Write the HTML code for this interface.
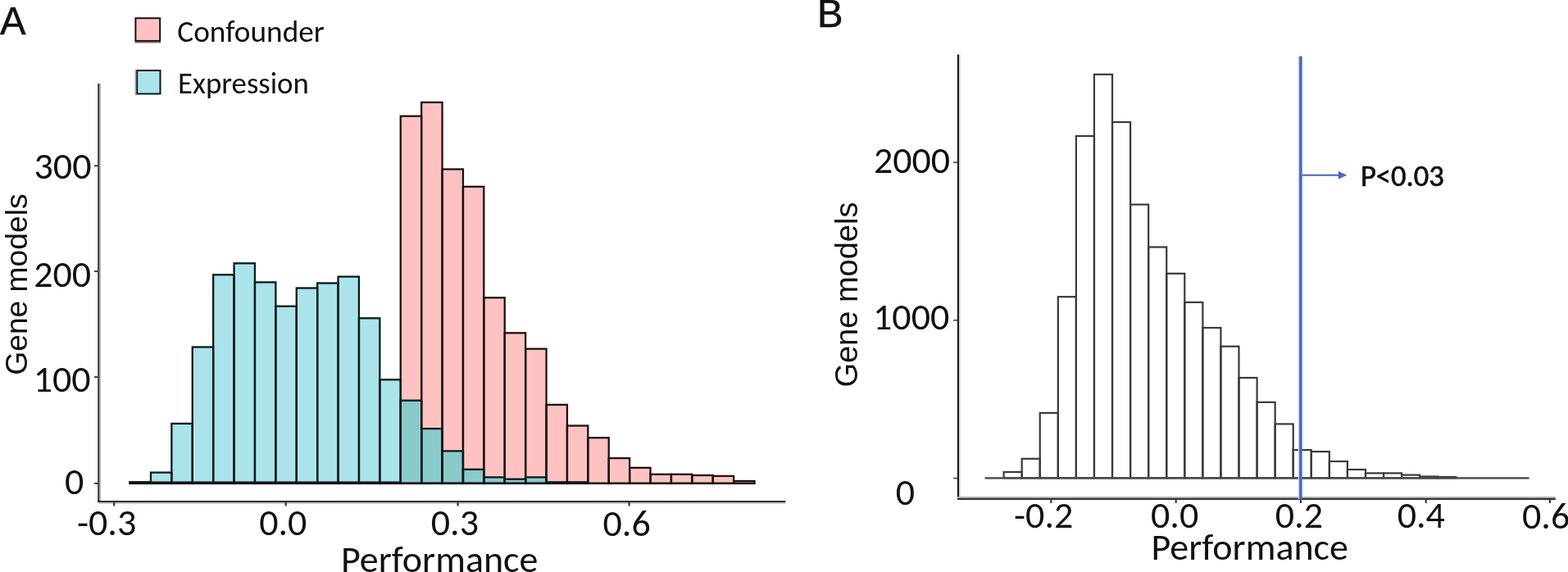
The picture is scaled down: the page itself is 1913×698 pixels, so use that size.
<!DOCTYPE html>
<html><head><meta charset="utf-8"><title>Figure</title>
<style>html,body{margin:0;padding:0;background:#fff;overflow:hidden}svg{display:block}</style>
</head><body>
<svg width="1913" height="698" viewBox="0 0 1913 698">
<rect width="1913" height="698" fill="#ffffff"/>
<rect x="158.56" y="588.60" width="25.40" height="1.30" fill="#FFC2C2"/>
<rect x="183.96" y="588.60" width="25.40" height="1.30" fill="#FFC2C2"/>
<rect x="209.36" y="588.60" width="25.40" height="1.30" fill="#FFC2C2"/>
<rect x="234.76" y="588.60" width="25.40" height="1.30" fill="#FFC2C2"/>
<rect x="260.16" y="588.60" width="25.40" height="1.30" fill="#FFC2C2"/>
<rect x="285.56" y="588.60" width="25.40" height="1.30" fill="#FFC2C2"/>
<rect x="310.95" y="588.60" width="25.40" height="1.30" fill="#FFC2C2"/>
<rect x="336.35" y="588.60" width="25.40" height="1.30" fill="#FFC2C2"/>
<rect x="361.75" y="588.60" width="25.40" height="1.30" fill="#FFC2C2"/>
<rect x="387.15" y="588.60" width="25.40" height="1.30" fill="#FFC2C2"/>
<rect x="412.55" y="588.60" width="25.40" height="1.30" fill="#FFC2C2"/>
<rect x="437.95" y="588.60" width="25.40" height="1.30" fill="#FFC2C2"/>
<rect x="463.35" y="588.60" width="25.40" height="1.30" fill="#FFC2C2"/>
<rect x="488.75" y="141.70" width="25.40" height="448.20" fill="#FFC2C2"/>
<rect x="514.15" y="124.90" width="25.40" height="465.00" fill="#FFC2C2"/>
<rect x="539.55" y="206.50" width="25.40" height="383.40" fill="#FFC2C2"/>
<rect x="564.94" y="227.80" width="25.40" height="362.10" fill="#FFC2C2"/>
<rect x="590.34" y="363.30" width="25.40" height="226.60" fill="#FFC2C2"/>
<rect x="615.74" y="406.30" width="25.40" height="183.60" fill="#FFC2C2"/>
<rect x="641.14" y="425.70" width="25.40" height="164.20" fill="#FFC2C2"/>
<rect x="666.54" y="493.90" width="25.40" height="96.00" fill="#FFC2C2"/>
<rect x="691.94" y="519.50" width="25.40" height="70.40" fill="#FFC2C2"/>
<rect x="717.34" y="534.20" width="25.40" height="55.70" fill="#FFC2C2"/>
<rect x="742.74" y="559.10" width="25.40" height="30.80" fill="#FFC2C2"/>
<rect x="768.14" y="570.80" width="25.40" height="19.10" fill="#FFC2C2"/>
<rect x="793.54" y="578.80" width="25.40" height="11.10" fill="#FFC2C2"/>
<rect x="818.93" y="578.80" width="25.40" height="11.10" fill="#FFC2C2"/>
<rect x="844.33" y="580.00" width="25.40" height="9.90" fill="#FFC2C2"/>
<rect x="869.73" y="580.90" width="25.40" height="9.00" fill="#FFC2C2"/>
<rect x="895.13" y="587.00" width="25.40" height="2.90" fill="#FFC2C2"/>
<rect x="158.56" y="588.30" width="25.40" height="1.60" fill="#AAE3EA"/>
<rect x="158.56" y="588.60" width="25.40" height="1.30" fill="#8BCACB"/>
<rect x="183.96" y="576.60" width="25.40" height="13.30" fill="#AAE3EA"/>
<rect x="183.96" y="588.60" width="25.40" height="1.30" fill="#8BCACB"/>
<rect x="209.36" y="516.90" width="25.40" height="73.00" fill="#AAE3EA"/>
<rect x="209.36" y="588.60" width="25.40" height="1.30" fill="#8BCACB"/>
<rect x="234.76" y="423.50" width="25.40" height="166.40" fill="#AAE3EA"/>
<rect x="234.76" y="588.60" width="25.40" height="1.30" fill="#8BCACB"/>
<rect x="260.16" y="335.30" width="25.40" height="254.60" fill="#AAE3EA"/>
<rect x="260.16" y="588.60" width="25.40" height="1.30" fill="#8BCACB"/>
<rect x="285.56" y="321.30" width="25.40" height="268.60" fill="#AAE3EA"/>
<rect x="285.56" y="588.60" width="25.40" height="1.30" fill="#8BCACB"/>
<rect x="310.95" y="344.40" width="25.40" height="245.50" fill="#AAE3EA"/>
<rect x="310.95" y="588.60" width="25.40" height="1.30" fill="#8BCACB"/>
<rect x="336.35" y="373.70" width="25.40" height="216.20" fill="#AAE3EA"/>
<rect x="336.35" y="588.60" width="25.40" height="1.30" fill="#8BCACB"/>
<rect x="361.75" y="351.50" width="25.40" height="238.40" fill="#AAE3EA"/>
<rect x="361.75" y="588.60" width="25.40" height="1.30" fill="#8BCACB"/>
<rect x="387.15" y="345.50" width="25.40" height="244.40" fill="#AAE3EA"/>
<rect x="387.15" y="588.60" width="25.40" height="1.30" fill="#8BCACB"/>
<rect x="412.55" y="337.60" width="25.40" height="252.30" fill="#AAE3EA"/>
<rect x="412.55" y="588.60" width="25.40" height="1.30" fill="#8BCACB"/>
<rect x="437.95" y="388.30" width="25.40" height="201.60" fill="#AAE3EA"/>
<rect x="437.95" y="588.60" width="25.40" height="1.30" fill="#8BCACB"/>
<rect x="463.35" y="463.30" width="25.40" height="126.60" fill="#AAE3EA"/>
<rect x="463.35" y="588.60" width="25.40" height="1.30" fill="#8BCACB"/>
<rect x="488.75" y="488.70" width="25.40" height="101.20" fill="#AAE3EA"/>
<rect x="488.75" y="488.70" width="25.40" height="101.20" fill="#8BCACB"/>
<rect x="514.15" y="523.10" width="25.40" height="66.80" fill="#AAE3EA"/>
<rect x="514.15" y="523.10" width="25.40" height="66.80" fill="#8BCACB"/>
<rect x="539.55" y="550.40" width="25.40" height="39.50" fill="#AAE3EA"/>
<rect x="539.55" y="550.40" width="25.40" height="39.50" fill="#8BCACB"/>
<rect x="564.94" y="572.80" width="25.40" height="17.10" fill="#AAE3EA"/>
<rect x="564.94" y="572.80" width="25.40" height="17.10" fill="#8BCACB"/>
<rect x="590.34" y="582.40" width="25.40" height="7.50" fill="#AAE3EA"/>
<rect x="590.34" y="582.40" width="25.40" height="7.50" fill="#8BCACB"/>
<rect x="615.74" y="584.70" width="25.40" height="5.20" fill="#AAE3EA"/>
<rect x="615.74" y="584.70" width="25.40" height="5.20" fill="#8BCACB"/>
<rect x="641.14" y="582.40" width="25.40" height="7.50" fill="#AAE3EA"/>
<rect x="641.14" y="582.40" width="25.40" height="7.50" fill="#8BCACB"/>
<rect x="666.54" y="588.30" width="25.40" height="1.60" fill="#AAE3EA"/>
<rect x="666.54" y="588.30" width="25.40" height="1.60" fill="#8BCACB"/>
<rect x="691.94" y="588.30" width="25.40" height="1.60" fill="#AAE3EA"/>
<rect x="691.94" y="588.30" width="25.40" height="1.60" fill="#8BCACB"/>
<rect x="158.56" y="588.60" width="25.40" height="1.30" fill="none" stroke="#1c1212" stroke-width="2.3"/>
<rect x="183.96" y="588.60" width="25.40" height="1.30" fill="none" stroke="#1c1212" stroke-width="2.3"/>
<rect x="209.36" y="588.60" width="25.40" height="1.30" fill="none" stroke="#1c1212" stroke-width="2.3"/>
<rect x="234.76" y="588.60" width="25.40" height="1.30" fill="none" stroke="#1c1212" stroke-width="2.3"/>
<rect x="260.16" y="588.60" width="25.40" height="1.30" fill="none" stroke="#1c1212" stroke-width="2.3"/>
<rect x="285.56" y="588.60" width="25.40" height="1.30" fill="none" stroke="#1c1212" stroke-width="2.3"/>
<rect x="310.95" y="588.60" width="25.40" height="1.30" fill="none" stroke="#1c1212" stroke-width="2.3"/>
<rect x="336.35" y="588.60" width="25.40" height="1.30" fill="none" stroke="#1c1212" stroke-width="2.3"/>
<rect x="361.75" y="588.60" width="25.40" height="1.30" fill="none" stroke="#1c1212" stroke-width="2.3"/>
<rect x="387.15" y="588.60" width="25.40" height="1.30" fill="none" stroke="#1c1212" stroke-width="2.3"/>
<rect x="412.55" y="588.60" width="25.40" height="1.30" fill="none" stroke="#1c1212" stroke-width="2.3"/>
<rect x="437.95" y="588.60" width="25.40" height="1.30" fill="none" stroke="#1c1212" stroke-width="2.3"/>
<rect x="463.35" y="588.60" width="25.40" height="1.30" fill="none" stroke="#1c1212" stroke-width="2.3"/>
<rect x="488.75" y="141.70" width="25.40" height="448.20" fill="none" stroke="#1c1212" stroke-width="2.3"/>
<rect x="514.15" y="124.90" width="25.40" height="465.00" fill="none" stroke="#1c1212" stroke-width="2.3"/>
<rect x="539.55" y="206.50" width="25.40" height="383.40" fill="none" stroke="#1c1212" stroke-width="2.3"/>
<rect x="564.94" y="227.80" width="25.40" height="362.10" fill="none" stroke="#1c1212" stroke-width="2.3"/>
<rect x="590.34" y="363.30" width="25.40" height="226.60" fill="none" stroke="#1c1212" stroke-width="2.3"/>
<rect x="615.74" y="406.30" width="25.40" height="183.60" fill="none" stroke="#1c1212" stroke-width="2.3"/>
<rect x="641.14" y="425.70" width="25.40" height="164.20" fill="none" stroke="#1c1212" stroke-width="2.3"/>
<rect x="666.54" y="493.90" width="25.40" height="96.00" fill="none" stroke="#1c1212" stroke-width="2.3"/>
<rect x="691.94" y="519.50" width="25.40" height="70.40" fill="none" stroke="#1c1212" stroke-width="2.3"/>
<rect x="717.34" y="534.20" width="25.40" height="55.70" fill="none" stroke="#1c1212" stroke-width="2.3"/>
<rect x="742.74" y="559.10" width="25.40" height="30.80" fill="none" stroke="#1c1212" stroke-width="2.3"/>
<rect x="768.14" y="570.80" width="25.40" height="19.10" fill="none" stroke="#1c1212" stroke-width="2.3"/>
<rect x="793.54" y="578.80" width="25.40" height="11.10" fill="none" stroke="#1c1212" stroke-width="2.3"/>
<rect x="818.93" y="578.80" width="25.40" height="11.10" fill="none" stroke="#1c1212" stroke-width="2.3"/>
<rect x="844.33" y="580.00" width="25.40" height="9.90" fill="none" stroke="#1c1212" stroke-width="2.3"/>
<rect x="869.73" y="580.90" width="25.40" height="9.00" fill="none" stroke="#1c1212" stroke-width="2.3"/>
<rect x="895.13" y="587.00" width="25.40" height="2.90" fill="none" stroke="#1c1212" stroke-width="2.3"/>
<rect x="158.56" y="588.30" width="25.40" height="1.60" fill="none" stroke="#0c1a1a" stroke-width="2.3"/>
<rect x="183.96" y="576.60" width="25.40" height="13.30" fill="none" stroke="#0c1a1a" stroke-width="2.3"/>
<rect x="209.36" y="516.90" width="25.40" height="73.00" fill="none" stroke="#0c1a1a" stroke-width="2.3"/>
<rect x="234.76" y="423.50" width="25.40" height="166.40" fill="none" stroke="#0c1a1a" stroke-width="2.3"/>
<rect x="260.16" y="335.30" width="25.40" height="254.60" fill="none" stroke="#0c1a1a" stroke-width="2.3"/>
<rect x="285.56" y="321.30" width="25.40" height="268.60" fill="none" stroke="#0c1a1a" stroke-width="2.3"/>
<rect x="310.95" y="344.40" width="25.40" height="245.50" fill="none" stroke="#0c1a1a" stroke-width="2.3"/>
<rect x="336.35" y="373.70" width="25.40" height="216.20" fill="none" stroke="#0c1a1a" stroke-width="2.3"/>
<rect x="361.75" y="351.50" width="25.40" height="238.40" fill="none" stroke="#0c1a1a" stroke-width="2.3"/>
<rect x="387.15" y="345.50" width="25.40" height="244.40" fill="none" stroke="#0c1a1a" stroke-width="2.3"/>
<rect x="412.55" y="337.60" width="25.40" height="252.30" fill="none" stroke="#0c1a1a" stroke-width="2.3"/>
<rect x="437.95" y="388.30" width="25.40" height="201.60" fill="none" stroke="#0c1a1a" stroke-width="2.3"/>
<rect x="463.35" y="463.30" width="25.40" height="126.60" fill="none" stroke="#0c1a1a" stroke-width="2.3"/>
<rect x="488.75" y="488.70" width="25.40" height="101.20" fill="none" stroke="#0c1a1a" stroke-width="2.3"/>
<rect x="514.15" y="523.10" width="25.40" height="66.80" fill="none" stroke="#0c1a1a" stroke-width="2.3"/>
<rect x="539.55" y="550.40" width="25.40" height="39.50" fill="none" stroke="#0c1a1a" stroke-width="2.3"/>
<rect x="564.94" y="572.80" width="25.40" height="17.10" fill="none" stroke="#0c1a1a" stroke-width="2.3"/>
<rect x="590.34" y="582.40" width="25.40" height="7.50" fill="none" stroke="#0c1a1a" stroke-width="2.3"/>
<rect x="615.74" y="584.70" width="25.40" height="5.20" fill="none" stroke="#0c1a1a" stroke-width="2.3"/>
<rect x="641.14" y="582.40" width="25.40" height="7.50" fill="none" stroke="#0c1a1a" stroke-width="2.3"/>
<rect x="666.54" y="588.30" width="25.40" height="1.60" fill="none" stroke="#0c1a1a" stroke-width="2.3"/>
<rect x="691.94" y="588.30" width="25.40" height="1.60" fill="none" stroke="#0c1a1a" stroke-width="2.3"/>
<rect x="157.56" y="588.7" width="762.97" height="2.1" fill="#141010"/>
<rect x="1224.63" y="576.00" width="22.07" height="7.30" fill="none" stroke="#3a3a3a" stroke-width="2.2"/>
<rect x="1246.69" y="559.80" width="22.07" height="23.50" fill="none" stroke="#3a3a3a" stroke-width="2.2"/>
<rect x="1268.76" y="503.90" width="22.07" height="79.40" fill="none" stroke="#3a3a3a" stroke-width="2.2"/>
<rect x="1290.83" y="362.20" width="22.07" height="221.10" fill="none" stroke="#3a3a3a" stroke-width="2.2"/>
<rect x="1312.89" y="166.00" width="22.07" height="417.30" fill="none" stroke="#3a3a3a" stroke-width="2.2"/>
<rect x="1334.96" y="90.80" width="22.07" height="492.50" fill="none" stroke="#3a3a3a" stroke-width="2.2"/>
<rect x="1357.03" y="149.00" width="22.07" height="434.30" fill="none" stroke="#3a3a3a" stroke-width="2.2"/>
<rect x="1379.10" y="249.60" width="22.07" height="333.70" fill="none" stroke="#3a3a3a" stroke-width="2.2"/>
<rect x="1401.16" y="301.50" width="22.07" height="281.80" fill="none" stroke="#3a3a3a" stroke-width="2.2"/>
<rect x="1423.23" y="333.80" width="22.07" height="249.50" fill="none" stroke="#3a3a3a" stroke-width="2.2"/>
<rect x="1445.30" y="368.90" width="22.07" height="214.40" fill="none" stroke="#3a3a3a" stroke-width="2.2"/>
<rect x="1467.36" y="400.00" width="22.07" height="183.30" fill="none" stroke="#3a3a3a" stroke-width="2.2"/>
<rect x="1489.43" y="422.70" width="22.07" height="160.60" fill="none" stroke="#3a3a3a" stroke-width="2.2"/>
<rect x="1511.50" y="461.00" width="22.07" height="122.30" fill="none" stroke="#3a3a3a" stroke-width="2.2"/>
<rect x="1533.57" y="490.80" width="22.07" height="92.50" fill="none" stroke="#3a3a3a" stroke-width="2.2"/>
<rect x="1555.63" y="517.40" width="22.07" height="65.90" fill="none" stroke="#3a3a3a" stroke-width="2.2"/>
<rect x="1577.70" y="549.10" width="22.07" height="34.20" fill="none" stroke="#3a3a3a" stroke-width="2.2"/>
<rect x="1599.77" y="551.10" width="22.07" height="32.20" fill="none" stroke="#3a3a3a" stroke-width="2.2"/>
<rect x="1621.83" y="563.00" width="22.07" height="20.30" fill="none" stroke="#3a3a3a" stroke-width="2.2"/>
<rect x="1643.90" y="573.00" width="22.07" height="10.30" fill="none" stroke="#3a3a3a" stroke-width="2.2"/>
<rect x="1665.97" y="577.40" width="22.07" height="5.90" fill="none" stroke="#3a3a3a" stroke-width="2.2"/>
<rect x="1688.03" y="577.40" width="22.07" height="5.90" fill="none" stroke="#3a3a3a" stroke-width="2.2"/>
<rect x="1710.10" y="579.60" width="22.07" height="3.70" fill="none" stroke="#3a3a3a" stroke-width="2.2"/>
<rect x="1732.17" y="581.50" width="22.07" height="1.80" fill="none" stroke="#3a3a3a" stroke-width="2.2"/>
<rect x="1754.23" y="582.00" width="22.07" height="1.30" fill="none" stroke="#3a3a3a" stroke-width="2.2"/>
<rect x="1201.56" y="582.2" width="664.01" height="2.4" fill="#4a4a4a"/>
<rect x="119.1" y="102" width="1.9" height="510.6" fill="#454545"/>
<rect x="121" y="102" width="1.7" height="510.6" fill="#9a9a9a"/>
<rect x="115" y="201.4" width="4.5" height="1.8" fill="#303030"/>
<rect x="115" y="330.2" width="4.5" height="1.8" fill="#303030"/>
<rect x="115" y="459.2" width="4.5" height="1.8" fill="#303030"/>
<rect x="115" y="589.0" width="4.5" height="1.8" fill="#303030"/>
<rect x="119.1" y="611.1" width="839.3" height="1.8" fill="#111"/>
<rect x="121" y="612.9" width="837.4" height="2.0" fill="#c4c4c4"/>
<rect x="138.1" y="612.9" width="2.2" height="4.6" fill="#3a3a3a"/>
<rect x="347.6" y="612.9" width="2.2" height="4.6" fill="#3a3a3a"/>
<rect x="557.5" y="612.9" width="2.2" height="4.6" fill="#3a3a3a"/>
<rect x="766.5" y="612.9" width="2.2" height="4.6" fill="#3a3a3a"/>
<rect x="1167.9" y="66.5" width="2.2" height="542.1" fill="#1a1a1a"/>
<rect x="1170.1" y="66.5" width="1.5" height="540" fill="#d0d0d0"/>
<rect x="1163" y="197.3" width="5" height="1.8" fill="#555"/>
<rect x="1163" y="389.9" width="5" height="1.8" fill="#555"/>
<rect x="1163" y="582.7" width="5" height="1.8" fill="#555"/>
<rect x="1168" y="606.1" width="729.8" height="1.9" fill="#a8a8a8"/>
<rect x="1168" y="608" width="729.8" height="1.9" fill="#2a2a2a"/>
<rect x="1281.3" y="609.9" width="2.2" height="4.0" fill="#3a3a3a"/>
<rect x="1433.6" y="609.9" width="2.2" height="4.0" fill="#3a3a3a"/>
<rect x="1585.8" y="609.9" width="2.2" height="4.0" fill="#3a3a3a"/>
<rect x="1738.6" y="609.9" width="2.2" height="4.0" fill="#3a3a3a"/>
<rect x="1889.8" y="609.9" width="2.2" height="4.0" fill="#3a3a3a"/>
<rect x="165.40" y="22.20" width="29.80" height="27.70" fill="#FFC2C2" stroke="#141010" stroke-width="2"/>
<rect x="164.4" y="50.9" width="31.8" height="1.6" fill="#8a6a6a"/>
<rect x="167.20" y="86.00" width="28.30" height="28.50" fill="#AAE3EA" stroke="#0c1616" stroke-width="2"/>
<rect x="164.6" y="85" width="1.6" height="31" fill="#a0a0a0"/>
<rect x="1583.7" y="68.6" width="1.4" height="540.6" fill="#c9d5f0"/>
<rect x="1585.1" y="68.6" width="3.6" height="540.6" fill="#4a6bb8"/>
<rect x="1588.5" y="212.7" width="45" height="2.1" fill="#4a6bb8"/>
<polygon points="1632.7,208.8 1643.4,213.75 1632.7,218.7" fill="#4a6bb8"/>
<g fill="#111">
<text x="-0.1" y="42.4" font-family="Liberation Sans, 'Liberation Sans', sans-serif" font-size="47.3" stroke="#111" stroke-width="0.5">A</text>
<text x="216.3" y="50.6" font-family="Carlito, 'Liberation Sans', sans-serif" font-size="37.3">Confounder</text>
<text x="217.0" y="114.2" font-family="Carlito, 'Liberation Sans', sans-serif" font-size="36.8">Expression</text>
<text x="41.5" y="218.3" font-family="Carlito, 'Liberation Sans', sans-serif" font-size="46">300</text>
<text x="41.2" y="349.7" font-family="Carlito, 'Liberation Sans', sans-serif" font-size="46">200</text>
<text x="40.7" y="478.0" font-family="Carlito, 'Liberation Sans', sans-serif" font-size="46">100</text>
<text x="79.0" y="603.0" font-family="Carlito, 'Liberation Sans', sans-serif" font-size="46">0</text>
<text x="93.9" y="653.0" font-family="Carlito, 'Liberation Sans', sans-serif" font-size="46">-0.3</text>
<text x="316.2" y="653.0" font-family="Carlito, 'Liberation Sans', sans-serif" font-size="46">0.0</text>
<text x="525.8" y="653.0" font-family="Carlito, 'Liberation Sans', sans-serif" font-size="46">0.3</text>
<text x="735.5" y="653.6" font-family="Carlito, 'Liberation Sans', sans-serif" font-size="46">0.6</text>
<text x="416.0" y="698.0" font-family="Carlito, 'Liberation Sans', sans-serif" font-size="46">Performance</text>
<text x="997.1" y="33.0" font-family="Liberation Sans, 'Liberation Sans', sans-serif" font-size="47.3" stroke="#111" stroke-width="0.5">B</text>
<text x="1065.9" y="211.0" font-family="Carlito, 'Liberation Sans', sans-serif" font-size="46">2000</text>
<text x="1065.0" y="402.1" font-family="Carlito, 'Liberation Sans', sans-serif" font-size="46">1000</text>
<text x="1092.8" y="615.9" font-family="Carlito, 'Liberation Sans', sans-serif" font-size="46">0</text>
<text x="1237.0" y="644.0" font-family="Carlito, 'Liberation Sans', sans-serif" font-size="46">-0.2</text>
<text x="1404.0" y="644.3" font-family="Carlito, 'Liberation Sans', sans-serif" font-size="46">0.0</text>
<text x="1555.8" y="644.0" font-family="Carlito, 'Liberation Sans', sans-serif" font-size="46">0.2</text>
<text x="1704.7" y="643.8" font-family="Carlito, 'Liberation Sans', sans-serif" font-size="46">0.4</text>
<text x="1857.0" y="644.6" font-family="Carlito, 'Liberation Sans', sans-serif" font-size="46">0.6</text>
<text x="1404.5" y="683.2" font-family="Carlito, 'Liberation Sans', sans-serif" font-size="46">Performance</text>
<text x="1660.0" y="227.2" font-family="Carlito, 'Liberation Sans', sans-serif" font-size="36.5" stroke="#111" stroke-width="0.7">P&lt;0.03</text>
<text transform="translate(32.7,457.7) rotate(-90)" font-family="Liberation Sans, sans-serif" font-size="37.2">Gene models</text>
<text transform="translate(1045.6,472.6) rotate(-90)" font-family="Liberation Sans, sans-serif" font-size="38.0">Gene models</text>
</g>
</svg>
</body></html>
